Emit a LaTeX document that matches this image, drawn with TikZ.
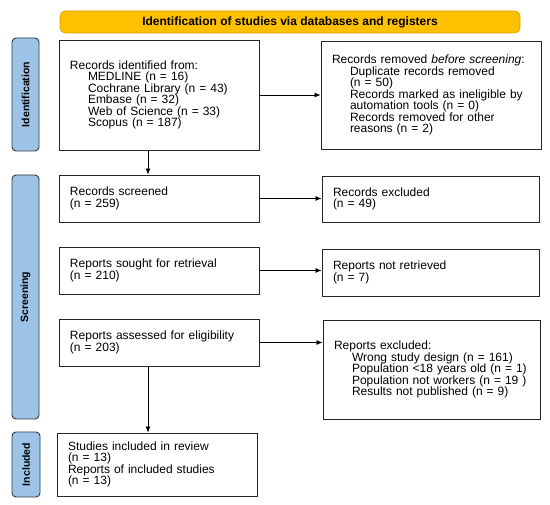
\documentclass[tikz,border=0pt]{standalone}
\usepackage{fontspec}
\setmainfont{Liberation Sans}
\usetikzlibrary{arrows.meta}
\definecolor{bannerfill}{HTML}{FFC000}
\definecolor{bannerdraw}{HTML}{D9A000}
\definecolor{barfill}{HTML}{9DC3E6}
\definecolor{bardraw}{HTML}{2F3B4A}
\begin{document}
\begin{tikzpicture}[x=1pt,y=-1pt,
  box/.style={draw=black!85, line width=0.9pt, fill=white, align=left,
    inner ysep=0pt, inner xsep=11pt, font=\fontsize{12}{11.5}\selectfont},
  bar/.style={draw=bardraw, line width=0.9pt, fill=barfill, rounded corners=4pt,
    inner sep=0pt, font=\bfseries\fontsize{10.5}{12}\selectfont, rotate=90},
  banner/.style={draw=bannerdraw, line width=0.6pt, fill=bannerfill, rounded corners=5pt,
    inner sep=0pt, font=\bfseries\fontsize{12}{12}\selectfont},
  arr/.style={-{Latex[length=6pt,width=5pt]}, line width=0.8pt}]
\useasboundingbox (0,0) rectangle (550,505);
\fill[white] (0,0) rectangle (550,505);

\node[banner, minimum width=460pt, minimum height=22pt] (top) at (290,22)
  {Identification of studies via databases and registers};

\node[bar, minimum width=113pt, minimum height=27pt] (sid) at (25.5,94.5) {Identification};
\node[bar, minimum width=244pt, minimum height=27pt] (ssc) at (25.5,297) {Screening};
\node[bar, minimum width=65pt, minimum height=28pt] (sin) at (26,464.5) {Included};

\node[box, text width=178pt, minimum height=110pt] (b1) at (159,95)
  {Records identified from:\\
   \hspace*{18pt}MEDLINE (n = 16)\\
   \hspace*{18pt}Cochrane Library (n = 43)\\
   \hspace*{18pt}Embase (n = 32)\\
   \hspace*{18pt}Web of Science (n = 33)\\
   \hspace*{18pt}Scopus (n = 187)};
\node[box, text width=198pt, minimum height=108pt] (b2) at (431,95)
  {Records removed \textit{before screening}:\\
   \hspace*{18pt}Duplicate records removed\\
   \hspace*{18pt}(n = 50)\\
   \hspace*{18pt}Records marked as ineligible by\\
   \hspace*{18pt}automation tools (n = 0)\\
   \hspace*{18pt}Records removed for other\\
   \hspace*{18pt}reasons (n = 2)};

\node[box, text width=178pt, minimum height=47pt] (scr) at (159,198.5)
  {Records screened\\(n = 259)};
\node[box, text width=195pt, minimum height=46pt] (exc) at (430.5,199)
  {Records excluded\\(n = 49)};

\node[box, text width=178pt, minimum height=47pt] (sou) at (159,270.5)
  {Reports sought for retrieval\\(n = 210)};
\node[box, text width=195pt, minimum height=47pt] (nre) at (430.5,272.5)
  {Reports not retrieved\\(n = 7)};

\node[box, text width=178pt, minimum height=47pt] (ass) at (159,342.5)
  {Reports assessed for eligibility\\(n = 203)};
\node[box, text width=195pt, minimum height=99pt] (rex) at (431.5,369.5)
  {Reports excluded:\\
   \hspace*{18pt}Wrong study design (n = 161)\\
   \hspace*{18pt}Population <18 years old (n = 1)\\
   \hspace*{18pt}Population not workers (n = 19 )\\
   \hspace*{18pt}Results not published (n = 9)};

\node[box, text width=178pt, minimum height=63pt] (inc) at (157,464.5)
  {Studies included in review\\(n = 13)\\Reports of included studies\\(n = 13)};

\draw[arr] (b1.east) -- (b1.east -| b2.west);
\draw[arr] (scr.east) -- (scr.east -| exc.west);
\draw[arr] (sou.east) -- (sou.east -| nre.west);
\draw[arr] (ass.east) -- (ass.east -| rex.west);

\coordinate (d1) at (148,150);
\coordinate (d2) at (148,366);
\draw[arr] (d1) -- (d1 |- scr.north);
\draw[arr] (d2) -- (d2 |- inc.north);
\end{tikzpicture}
\end{document}
